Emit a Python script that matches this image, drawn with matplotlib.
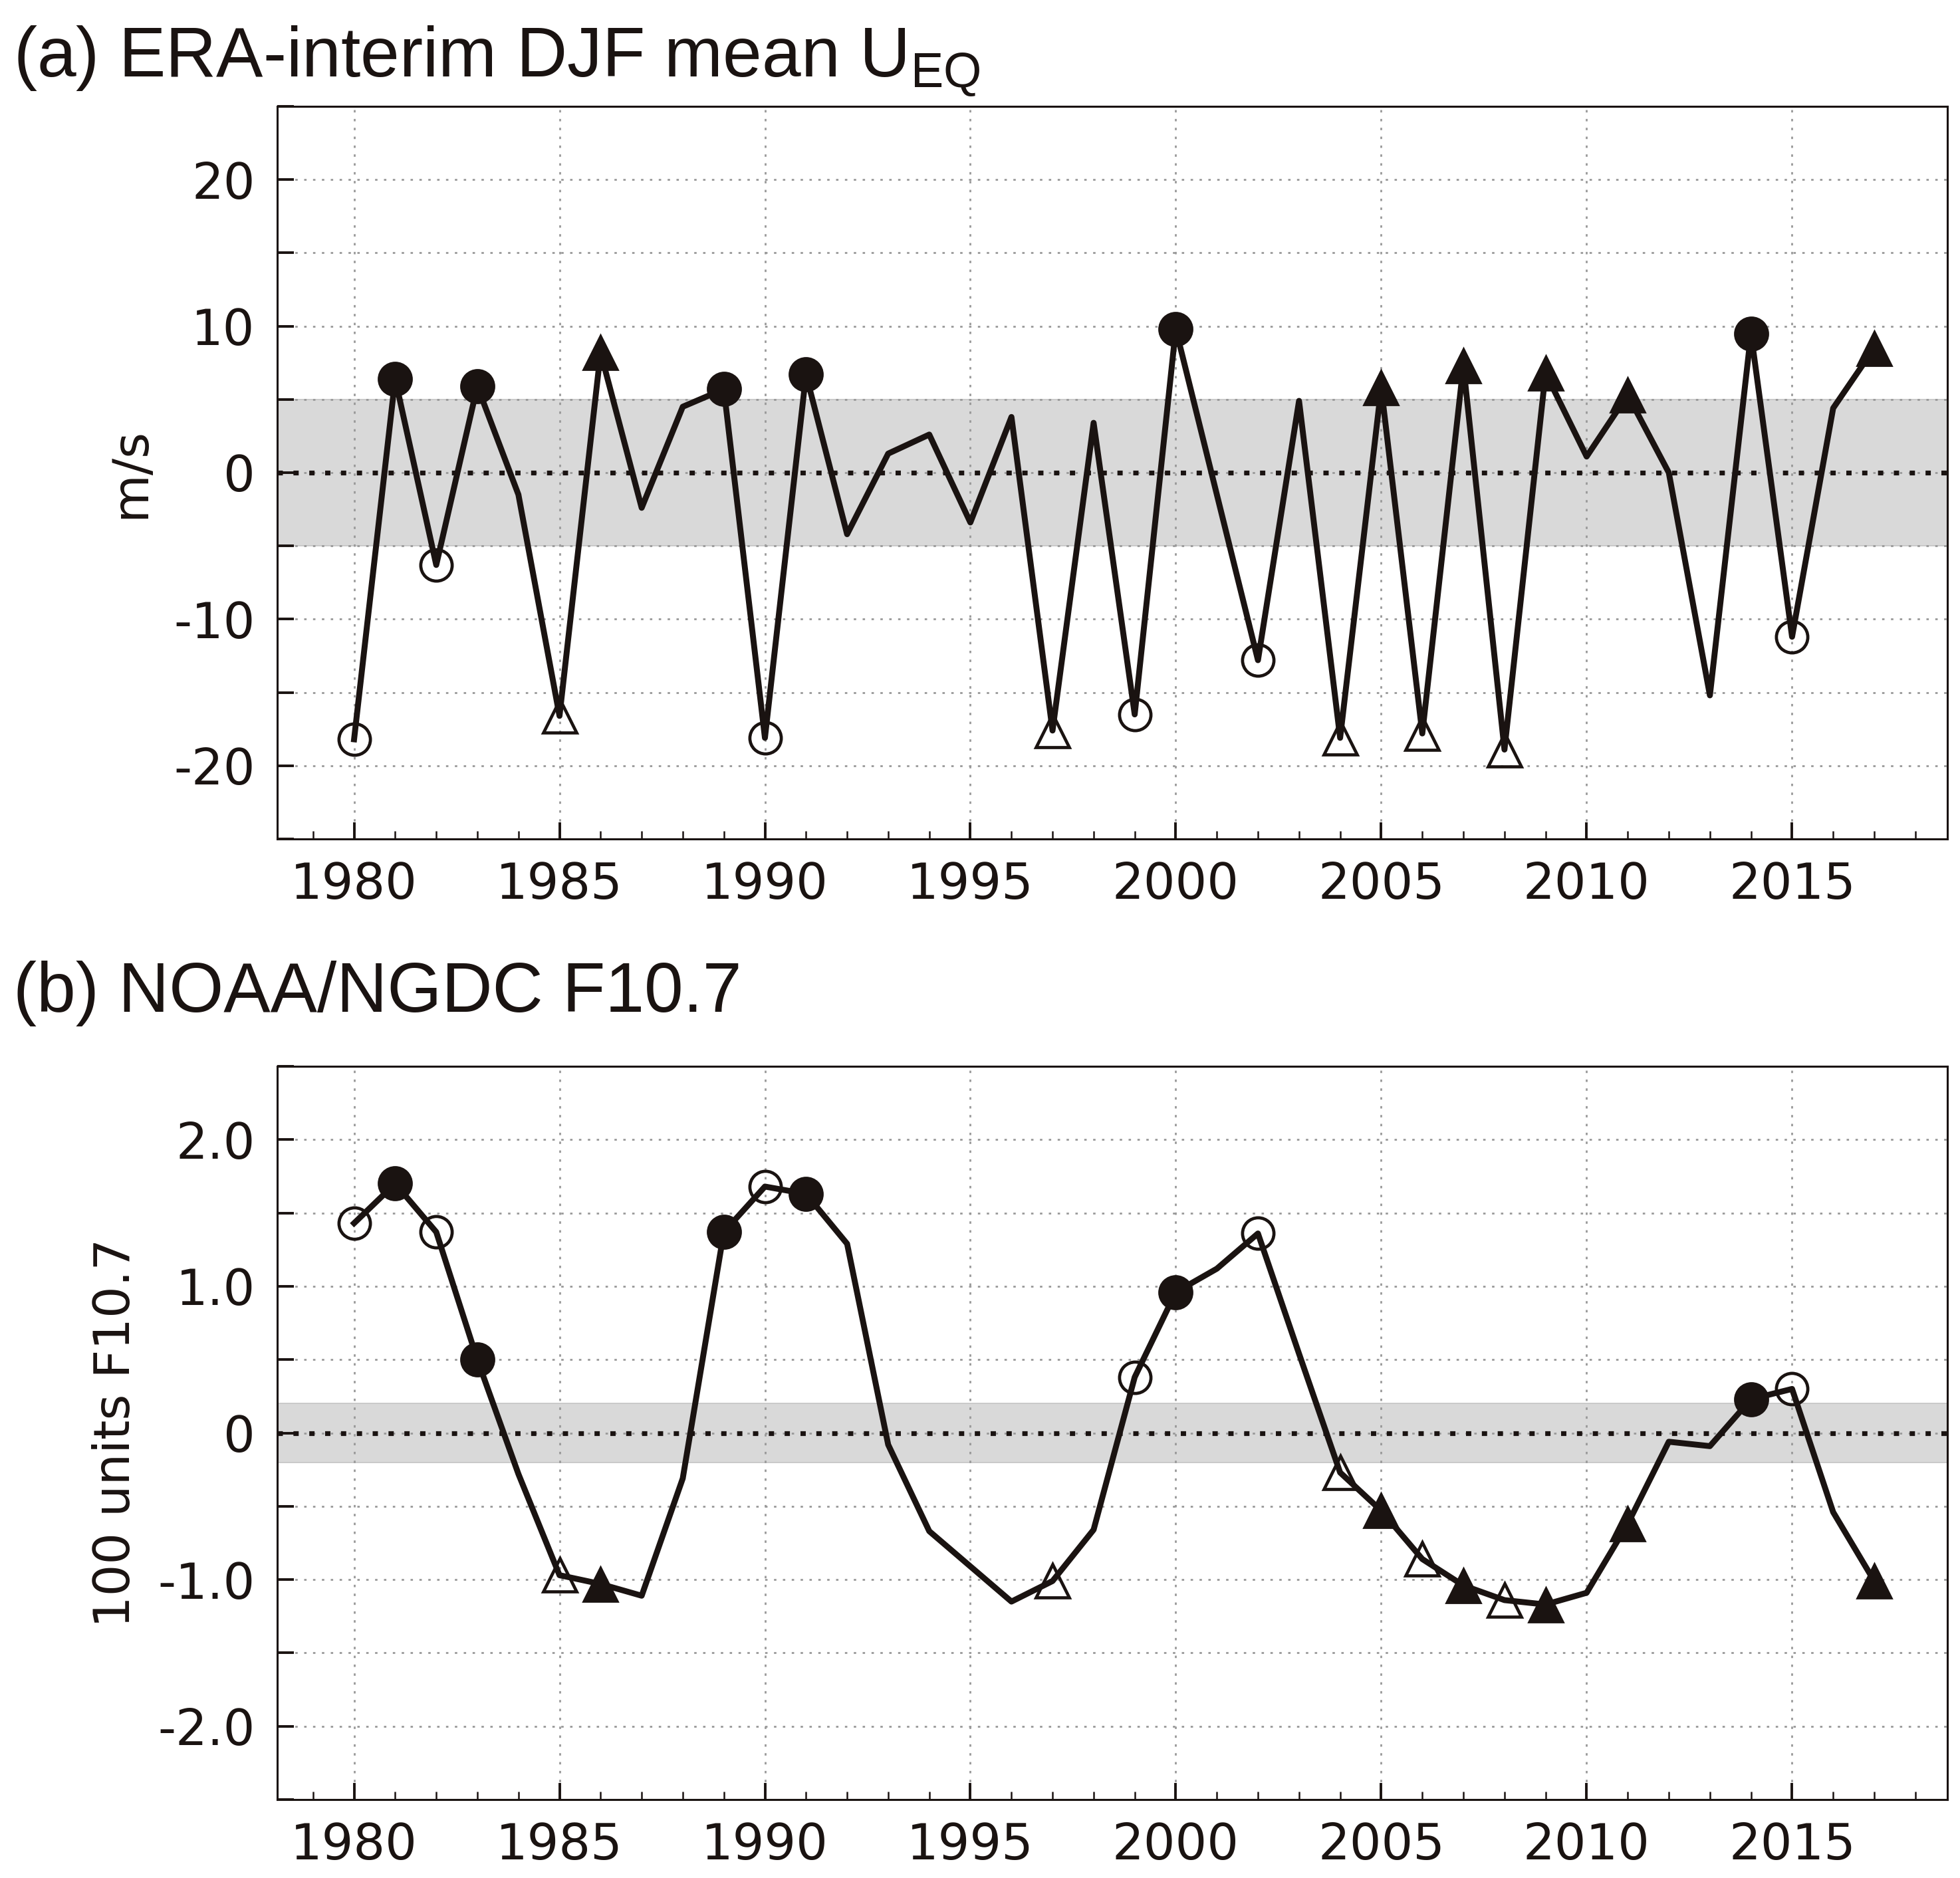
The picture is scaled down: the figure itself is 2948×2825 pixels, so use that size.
import matplotlib.pyplot as plt
from matplotlib.ticker import MultipleLocator

years = list(range(1980, 2018))

u_eq = [-18.2, 6.4, -6.3, 5.9, -1.5, -16.6, 8.2, -2.4, 4.5, 5.7,
        -18.1, 6.7, -4.2, 1.3, 2.6, -3.4, 3.8, -17.6, 3.4, -16.5,
        9.8, -1.5, -12.8, 4.9, -18.1, 5.8, -17.8, 7.3, -18.9, 6.8,
        1.1, 5.3, 0.0, -15.2, 9.5, -11.2, 4.4, 8.5]

f107 = [1.43, 1.70, 1.37, 0.50, -0.28, -0.97, -1.03, -1.11, -0.31, 1.37,
        1.68, 1.63, 1.29, -0.08, -0.67, -0.91, -1.15, -1.01, -0.66, 0.38,
        0.96, 1.12, 1.36, 0.54, -0.27, -0.53, -0.86, -1.04, -1.14, -1.17,
        -1.09, -0.62, -0.06, -0.09, 0.23, 0.30, -0.54, -1.01]

# marker classes (same years in both panels)
open_circle = [1980, 1982, 1990, 1999, 2002, 2015]
full_circle = [1981, 1983, 1989, 1991, 2000, 2014]
open_tri = [1985, 1997, 2004, 2006, 2008]
full_tri = [1986, 2005, 2007, 2009, 2011, 2017]

xticks = [1980, 1985, 1990, 1995, 2000, 2005, 2010, 2015]
a_yticks = [-20, -10, 0, 10, 20]
a_ylabels = ['-20', '-10', '0', '10', '20']
b_yticks = [-2.0, -1.0, 0.0, 1.0, 2.0]
b_ylabels = ['-2.0', '-1.0', '0', '1.0', '2.0']

black = '#1a1311'
shade = '#d9d9d9'
gridc = '#999999'

plt.rcParams['font.family'] = 'DejaVu Sans'
plt.rcParams['mathtext.fontset'] = 'custom'
plt.rcParams['mathtext.rm'] = 'Liberation Sans'
plt.rcParams['mathtext.it'] = 'Liberation Sans'

W, H = 2948, 2825
fig = plt.figure(figsize=(W / 200, H / 200), dpi=200)


def pick(vals, sel):
    return [v for yr, v in zip(years, vals) if yr in sel]


def panel(rect, vals, ylim, band, ystep, yticks, ylabels):
    ax = fig.add_axes(rect)
    ax.axhspan(-band, band, facecolor=shade, edgecolor='#c4c4c4', lw=0.6, zorder=0)
    ax.set_xlim(1978.13, 2018.78)
    ax.set_ylim(-ylim, ylim)
    ax.set_xticks(xticks)
    ax.xaxis.set_minor_locator(MultipleLocator(1))
    ax.set_yticks(yticks, ylabels)
    ax.yaxis.set_minor_locator(MultipleLocator(ystep))
    ax.grid(which='major', axis='x', color=gridc, lw=1.0, ls=(0, (1.3, 3.5)), zorder=1)
    ax.grid(which='both', axis='y', color=gridc, lw=1.0, ls=(0, (1.3, 3.5)), zorder=1)
    ax.axhline(0, color=black, lw=2.6, dashes=(1.1, 2.2), zorder=2)

    ax.plot(years, vals, color=black, lw=3.2, zorder=3)
    ax.plot(open_circle, pick(vals, open_circle), ls='none', marker='o', ms=17,
            mfc='none', mec=black, mew=1.7, zorder=4)
    ax.plot(full_circle, pick(vals, full_circle), ls='none', marker='o', ms=18,
            mfc=black, mec=black, zorder=4)
    ax.plot(open_tri, pick(vals, open_tri), ls='none', marker='^', ms=18,
            mfc='none', mec=black, mew=1.7, zorder=4)
    ax.plot(full_tri, pick(vals, full_tri), ls='none', marker='^', ms=19,
            mfc=black, mec=black, zorder=4)

    for s in ax.spines.values():
        s.set_linewidth(1.1)
        s.set_color(black)
    ax.tick_params(which='major', direction='in', length=9, width=1.4,
                   labelsize=27, colors=black, pad=12)
    ax.tick_params(axis='x', which='minor', direction='in', length=4.5, width=0.9,
                   colors=black)
    ax.tick_params(axis='y', which='minor', direction='in', length=9, width=1.4,
                   colors=black)
    return ax


ax1 = panel([417 / W, 1 - 1262 / H, 2512 / W, 1102 / H], u_eq, 25, 5, 5,
            a_yticks, a_ylabels)
ax2 = panel([417 / W, 1 - 2707 / H, 2512 / W, 1103 / H], f107, 2.5, 0.2, 0.5,
            b_yticks, b_ylabels)

fig.text(20 / W, 1 - 115 / H, r'(a) ERA-interim DJF mean U$_\mathrm{EQ}$',
         fontsize=38, family='Liberation Sans', va='baseline', color=black)
fig.text(20 / W, 1 - 1522 / H, '(b) NOAA/NGDC F10.7',
         fontsize=38, family='Liberation Sans', va='baseline', color=black)

fig.text(197 / W, 1 - 711 / H, 'm/s', rotation=90, ha='center', va='center',
         fontsize=27, color=black)
fig.text(175 / W, 1 - 2155 / H, '100 units F10.7', rotation=90, ha='center',
         va='center', fontsize=27, color=black)

fig.savefig('out.png', dpi=200)
